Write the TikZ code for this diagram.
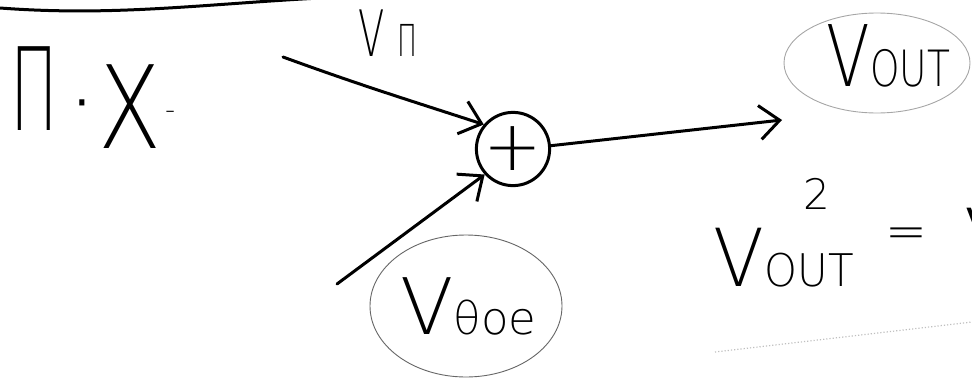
\documentclass[tikz,border=0pt]{standalone}
\usepackage{fontspec}
\IfFontExistsTF{DejaVuSans-ExtraLight.ttf}
  {\setmainfont{DejaVuSans-ExtraLight.ttf}}
  {\setmainfont{DejaVu Sans}}
\usepackage{tikz}
\usetikzlibrary{arrows.meta,shapes}

\tikzset{
  hand/.style={line width=3pt,line cap=round,line join=round},
  bubble/.style={ellipse,draw=black!35,line width=0.9pt,inner sep=0pt},
  junction/.style={circle,draw,line width=3pt,minimum size=66pt,inner sep=0pt},
}
\newcommand{\hw}[2]{{\fontsize{#1}{#1}\selectfont #2}}

\begin{document}
\begin{tikzpicture}[x=1pt,y=-1pt,>={Straight Barb[length=20pt,width=34pt]}]
\clip (0,0) rectangle (972,378);
% top edge of the sheet
\draw[hand] (0,8) .. controls (120,17) and (210,3) .. (340,-3);
% left title
\node[anchor=base west,inner sep=0pt] (pi) at (10,130) {\scalebox{0.55}[1]{\hw{115}{Π}}};
\node[anchor=base,inner sep=0pt] (pidot) at (82,136) {\hw{100}{·}};
\node[anchor=base west,inner sep=0pt] (xx) at (98,148) {\scalebox{0.8}[1]{\hw{115}{X}}};
\node[anchor=base west,inner sep=0pt] (xdash) at (165,119) {\hw{28}{-}};
% summing junction
\node[junction] (sum) at (513,149) {\hw{70}{+}};
\coordinate (vpiend) at (283,57);
\coordinate (vopend) at (337,284);
\coordinate (outend) at (782,120);
\draw[hand,->] (vpiend) to[out=-20,in=162] (sum.140);
\draw[hand,->] (vopend) -- (sum.222);
\draw[hand,->] (sum.5) -- (outend);
\node[anchor=base west,inner sep=0pt] (vpi) at (358,56) {\scalebox{0.6}[1]{\hw{64}{V}\hspace{22pt}\hw{44}{Π}}};
% circled labels
\node[bubble,minimum width=186pt,minimum height=100pt] (voutb) at (877,63) {};
\node[anchor=base west] (vout) at (823,86) {\scalebox{0.75}[1]{\hw{85}{V}\hw{50}{OUT}}};
\node[bubble,draw=black!60,minimum width=192pt,minimum height=142pt] (vopb) at (466,306) {};
\node[anchor=base west] (vop) at (397,334) {\hw{78}{V}\hw{45}{θoe}};
% formula
\node[anchor=base west] (vout2) at (710,286) {\scalebox{0.93}[1]{\hw{80}{V}\hw{45}{OUT}}};
\node (sq) at (817,194) {\hw{42}{2}};
\node (eq) at (906,238) {\hw{50}{=}};
\node[anchor=base west] (vcut) at (961,266) {\hw{80}{V}};
\draw[black!25,dotted,line width=1.2pt] (715,352) -- (972,322);
\end{tikzpicture}
\end{document}
